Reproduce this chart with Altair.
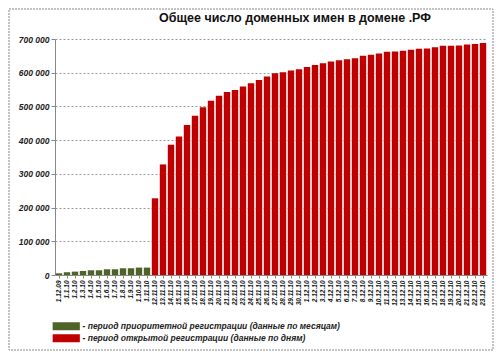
import altair as alt
import pandas as pd

# Priority registration period (monthly data)
priority_dates = ["1.12.09", "1.1.10", "1.2.10", "1.3.10", "1.4.10", "1.5.10",
                  "1.6.10", "1.7.10", "1.8.10", "1.9.10", "1.10.10", "1.11.10"]
priority_values = [5000, 8000, 10000, 12000, 14000, 14000,
                   17000, 17000, 20000, 20000, 22000, 22000]

# Open registration period (daily data)
open_dates = ["12.11.10", "13.11.10", "14.11.10", "15.11.10", "16.11.10", "17.11.10",
              "18.11.10", "19.11.10", "20.11.10", "21.11.10", "22.11.10", "23.11.10",
              "24.11.10", "25.11.10", "26.11.10", "27.11.10", "28.11.10", "29.11.10",
              "30.11.10", "1.12.10", "2.12.10", "3.12.10", "4.12.10", "5.12.10",
              "6.12.10", "7.12.10", "8.12.10", "9.12.10", "10.12.10", "11.12.10",
              "12.12.10", "13.12.10", "14.12.10", "15.12.10", "16.12.10", "17.12.10",
              "18.12.10", "19.12.10", "20.12.10", "21.12.10", "22.12.10", "23.12.10"]
open_values = [227500, 328000, 386000, 410500, 445000, 472000,
               497500, 517000, 532000, 543000, 549000, 559000,
               569000, 578600, 588500, 598400, 601400, 606300,
               610300, 617200, 623100, 628000, 633000, 637000,
               640000, 643000, 650000, 653000, 657000, 662000,
               663000, 665000, 668000, 671000, 672000, 675600,
               680000, 680000, 681000, 684000, 685000, 688000]

period_labels = ["- период приоритетной регистрации (данные по месяцам)",
                 "- период открытой регистрации (данные по дням)"]
period_colors = ["#4F6228", "#C00000"]
y_ticks = [0, 100000, 200000, 300000, 400000, 500000, 600000, 700000]
title_text = "Общее число доменных имен в домене .РФ"

df = pd.DataFrame({
    "date": priority_dates + open_dates,
    "value": priority_values + open_values,
    "period": [period_labels[0]] * len(priority_dates) + [period_labels[1]] * len(open_dates),
})

FONT = "Liberation Sans"

bars = alt.Chart(df).mark_bar().encode(
    x=alt.X("date:N", sort=None,
            scale=alt.Scale(paddingInner=0.2, paddingOuter=0.1),
            axis=alt.Axis(title=None, labelAngle=-90, labelFont=FONT, labelFontSize=6.5,
                          labelFontStyle="italic", labelFontWeight="bold", labelColor="#222",
                          labelPadding=2, tickSize=3, tickColor="#888", domainColor="#888")),
    y=alt.Y("value:Q",
            scale=alt.Scale(domain=[0, 700000], nice=False),
            axis=alt.Axis(title=None, values=y_ticks,
                          labelExpr="replace(format(datum.value, ','), ',', ' ')",
                          labelFont=FONT, labelFontSize=8.5, labelFontStyle="italic",
                          labelFontWeight="bold", labelColor="#222", labelPadding=2,
                          tickSize=4, tickColor="#888", domainColor="#888",
                          grid=True, gridDash=[2, 2], gridColor="#999")),
    color=alt.Color("period:N",
                    scale=alt.Scale(domain=period_labels, range=period_colors),
                    legend=alt.Legend(title=None, orient="none", legendX=7, legendY=283,
                                      padding=0, symbolType="M-3.4,-1H3.4V1H-3.4Z",
                                      symbolSize=64, symbolStrokeWidth=0,
                                      labelFont=FONT, labelFontSize=8.5,
                                      labelFontStyle="italic", labelFontWeight="bold",
                                      labelColor="#222", labelOffset=12, rowPadding=3,
                                      labelLimit=400)),
)

frame = alt.Chart(pd.DataFrame({"a": [0]})).mark_rect(
    filled=False, stroke="#888", strokeWidth=1, strokeDash=[2, 1]
).encode(
    x=alt.value(-46), x2=alt.value(438), y=alt.value(-30), y2=alt.value(311)
)

title = alt.Chart(pd.DataFrame({"t": [title_text]})).mark_text(
    font=FONT, fontSize=12.5, fontWeight="bold", color="#111",
    align="center", baseline="alphabetic"
).encode(
    text="t:N", x=alt.value(240), y=alt.value(-17)
)

chart = alt.layer(frame, bars, title).properties(
    width=432, height=236,
    autosize=alt.AutoSizeParams(type="none"),
    padding={"left": 47, "top": 31, "right": 7, "bottom": 76},
).configure_view(stroke=None)

chart.save("out.html", embed_options={"renderer": "svg", "actions": False})
